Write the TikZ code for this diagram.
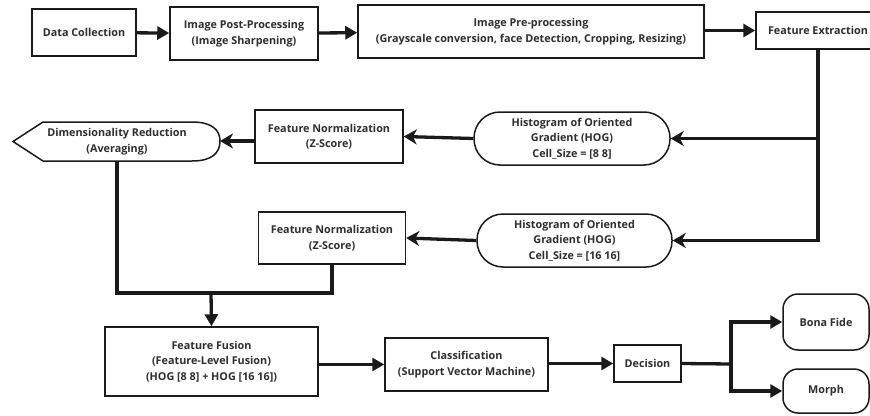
\documentclass[tikz,border=0pt]{standalone}
\usepackage{fontspec}
\setmainfont{Open Sans}
\usetikzlibrary{arrows.meta,calc}
\definecolor{txt}{HTML}{2E2E2E}
\definecolor{ln}{HTML}{1A1A1A}
\tikzset{
  tfont/.style={font=\fontsize{10.8}{15.5}\selectfont\bfseries, text=txt},
  box/.style={draw=ln, line width=1.5pt, fill=white, align=center, inner sep=0pt, tfont},
  pill/.style={box, rounded corners=26pt},
  rpill/.style={box, rounded corners=15pt},
  conn/.style={draw=ln, line width=3.3pt},
  arr/.style={conn, -{Triangle[length=12pt,width=13pt]}},
  sarr/.style={conn, -{Stealth[length=13pt,width=15pt,inset=4pt]}},
}
\begin{document}
\begin{tikzpicture}[x=1pt,y=-1pt]
\useasboundingbox (0,0) rectangle (870,415);
\node[box, minimum width=104pt, minimum height=47pt] (dc) at (84,32.5) {Data Collection};
\node[box, minimum width=148pt, minimum height=53pt] (post) at (244,33.5) {Image Post-Processing\\(Image Sharpening)};
\node[box, minimum width=346pt, minimum height=53pt] (pre) at (531,31.5) {Image Pre-processing\\(Grayscale conversion, face Detection, Cropping, Resizing)};
\node[box, minimum width=124pt, minimum height=37pt] (fe) at (818,30.5) {Feature Extraction};
\node[pill, minimum width=196pt, minimum height=53pt] (hogA) at (572,138.5) {Histogram of Oriented\\Gradient (HOG)\\Cell\_Size = [8 8]};
\node[box, minimum width=148pt, minimum height=53pt] (fnA) at (329,136.5) {Feature Normalization\\(Z-Score)};
\node[tfont, align=center, inner sep=0pt] (dr) at (117,141.5) {Dimensionality Reduction\\(Averaging)};
\coordinate (drE) at (220,141);
\coordinate (drS) at (117,161);
\draw[ln, line width=1.5pt, fill=none] (13,141.5) -- (43,122) -- (192,122) .. controls (212,122) and (220,130) .. (drE) .. controls (220,153) and (212,161) .. (192,161) -- (drS) -- (43,161) -- cycle;
\node[pill, minimum width=195pt, minimum height=53pt] (hogB) at (574.5,240.5) {Histogram of Oriented\\Gradient (HOG)\\Cell\_Size = [16 16]};
\node[box, minimum width=147pt, minimum height=52pt] (fnB) at (332,238) {Feature Normalization\\(Z-Score)};
\node[box, minimum width=213pt, minimum height=69pt] (ff) at (211.5,361.5) {Feature Fusion\\(Feature-Level Fusion)\\(HOG [8 8] + HOG [16 16])};
\node[box, minimum width=163pt, minimum height=53pt] (cls) at (466.5,364.5) {Classification\\(Support Vector Machine)};
\node[box, minimum width=67pt, minimum height=37pt] (dec) at (647.5,363.5) {Decision};
\node[rpill, minimum width=86pt, minimum height=56pt] (bona) at (826,322) {Bona Fide};
\node[rpill, minimum width=86pt, minimum height=44pt] (morph) at (826,391) {Morph};
\coordinate (mrg) at (211,293);
\coordinate (br) at (731,364);
\draw[arr] (dc) -- (post);
\draw[arr] (post) -- (pre);
\draw[arr] (pre.east |- fe.west) -- (fe.west);
\draw[sarr] (fe.south) |- (hogA.east);
\draw[sarr] (fe.south) |- (hogB.east);
\draw[sarr] (hogA.west) -- (fnA.east);
\draw[sarr] (fnA.west |- drE) -- (drE);
\draw[sarr] (hogB.west) -- (fnB.east);
\draw[conn] (drS) |- (mrg) -| (fnB.south);
\draw[arr] (mrg) -- (ff.north);
\draw[arr] (ff.east |- cls.west) -- (cls.west);
\draw[arr] (cls.east |- dec.west) -- (dec.west);
\draw[conn] (dec.east) -- (br);
\draw[arr] (br) |- (bona.west);
\draw[arr] (br) |- (morph.west);
\end{tikzpicture}
\end{document}
